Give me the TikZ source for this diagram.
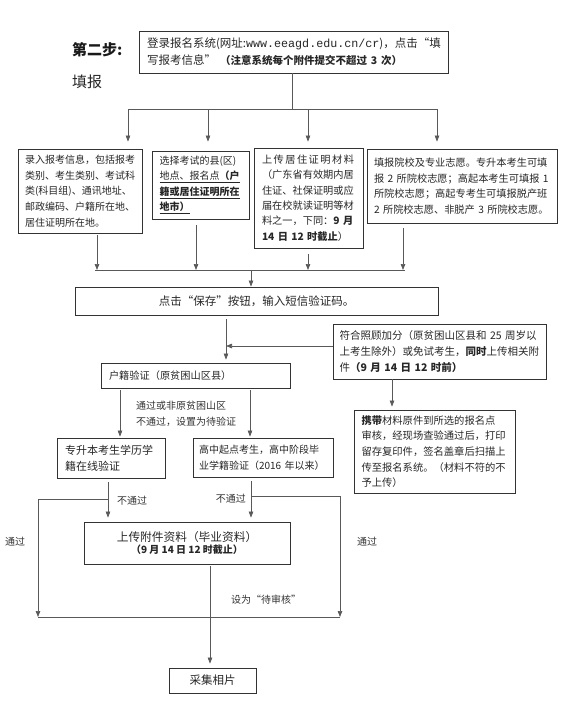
\documentclass[tikz,border=0pt]{standalone}
\usepackage{fontspec}
\setmainfont{Noto Sans CJK SC}
\newfontfamily\monof{Liberation Mono}
\usetikzlibrary{arrows.meta}
\newcommand\myfs[2]{\fontsize{#1}{#2}\selectfont}
\begin{document}
\begin{tikzpicture}[x=1pt,y=-1pt,
 box/.style={draw=black!80, line width=0.8pt, inner sep=0pt, text=black!85, align=left},
 ln/.style={draw=black!65, line width=0.7pt},
 arr/.style={ln, -{Triangle[length=6pt,width=4.5pt]}},
 lbl/.style={text=black!80, font=\myfs{10}{16}, inner sep=0pt, anchor=west, align=left},
]
\useasboundingbox (0,0) rectangle (560,701);

% heading
\node[anchor=west, inner sep=0pt, font=\myfs{15}{18}\bfseries, text=black!90] (step) at (72,50) {第二步:};
\node[anchor=west, inner sep=0pt, font=\myfs{15}{18}, text=black!85] (fill) at (72,82) {填报};

% top box
\node[box, minimum width=309pt, minimum height=42pt, text width=293pt, font=\myfs{11.5}{17}] (top) at (293.5,52)
 {登录报名系统(网址:{\monof\myfs{11.7}{17}www.eeagd.edu.cn/cr})，点击“填\\写报考信息”\hspace{4pt}{\myfs{10.5}{17}\bfseries（注意系统每个附件提交不超过 3 次）}};

% four boxes
\node[box, minimum width=124pt, minimum height=84pt, text width=110pt, font=\myfs{10}{15.6}] (b1) at (80,191)
 {录入报考信息，包括报考\\类别、考生类别、考试科\\类(科目组)、通讯地址、\\邮政编码、户籍所在地、\\居住证明所在地。};
\node[box, minimum width=97pt, minimum height=68pt, text width=82pt, font=\myfs{10}{15.5}] (b2) at (200.5,185)
 {选择考试的县(区)\\\underline{地点、报名点\textbf{（户}}\\\underline{\textbf{籍或居住证明所在}}\\\underline{\textbf{地市）}}};
\node[box, minimum width=109pt, minimum height=100pt, text width=93pt, font=\myfs{10.2}{15.4}] (b3) at (308.5,198)
 {\makebox[92pt][s]{上\hfill 传\hfill 居\hfill 住\hfill 证\hfill 明\hfill 材\hfill 料}\\（广东省有效期内居\\住证、社保证明或应\\届在校就读证明等材\\料之一，下同：\textbf{9 月}\\\textbf{14 日 12 时截止}）};
\node[box, minimum width=190pt, minimum height=74pt, text width=176pt, font=\myfs{10.2}{15.5}] (b4) at (462,186)
 {填报院校及专业志愿。专升本考生可填\\报 2 所院校志愿；高起本考生可填报 1\\所院校志愿；高起专考生可填报脱产班\\2 所院校志愿、非脱产 3 所院校志愿。};

% save box
\node[box, minimum width=363pt, minimum height=28pt, align=center, font=\myfs{11.5}{14}] (save) at (256.5,301)
 {点击“保存”按钮，输入短信验证码。};

% special box
\node[box, minimum width=213pt, minimum height=55pt, text width=200pt, font=\myfs{10.5}{15.8}] (fh) at (439.5,351.5)
 {符合照顾加分（原贫困山区县和 25 周岁以\\上考生除外）或免试考生，\textbf{同时}上传相关附\\件\textbf{（9 月 14 日 12 时前）}};

% huji box
\node[box, minimum width=189pt, minimum height=25pt, text width=173pt, font=\myfs{10.2}{14}] (hj) at (195.5,375.5)
 {户籍验证（原贫困山区县）};

% carry box
\node[box, minimum width=161pt, minimum height=83pt, text width=146pt, font=\myfs{10.3}{15.6}] (xd) at (434.5,451.5)
 {\textbf{携带}材料原件到所选的报名点\\审核，经现场查验通过后，打印\\留存复印件，签名盖章后扫描上\\传至报名系统。（材料不符的不\\予上传）};

% verification boxes
\node[box, minimum width=108pt, minimum height=40pt, text width=92pt, font=\myfs{11}{16}] (zsb) at (111,458)
 {专升本考生学历学\\籍在线验证};
\node[box, minimum width=140pt, minimum height=39pt, text width=128pt, font=\myfs{10}{16}] (gz) at (263,457.5)
 {高中起点考生，高中阶段毕\\业学籍验证（2016~年以来）};

% upload box
\node[box, minimum width=206pt, minimum height=42pt, align=center] (sc) at (187,543)
 {{\myfs{11.7}{16}上传附件资料（毕业资料）}\\{\myfs{10}{16}\bfseries（9 月 14 日 12 时截止）}};

% photo box
\node[box, minimum width=87pt, minimum height=25pt, align=center, font=\myfs{11.5}{14}] (cj) at (212.5,680.5) {采集相片};

% labels
\node[lbl] (l1) at (136,414) {通过或非原贫困山区\\不通过，设置为待验证};
\node[lbl] (l2) at (117,501) {不通过};
\node[lbl, anchor=east] (l3) at (246,499) {不通过};
\node[lbl] (l4) at (5,542) {通过};
\node[lbl] (l5) at (357,542) {通过};
\node[lbl] (l6) at (231,600) {设为“待审核”};

% top connectors
\coordinate (tb) at (292,109);
\coordinate (bL) at (128,109);
\coordinate (c2) at (208,109);
\coordinate (c3) at (308,109);
\coordinate (bR) at (437,109);
\draw[ln] (top.south -| tb) -- (tb);
\draw[ln] (bL) -- (bR);
\draw[arr, shorten >=7pt] (bL) -- (bL |- b1.north);
\draw[arr, shorten >=9pt] (c2) -- (c2 |- b2.north);
\draw[arr, shorten >=6pt] (c3) -- (c3 |- b3.north);
\draw[arr, shorten >=7pt] (bR) -- (bR |- b4.north);

% middle bar
\coordinate (m1) at (97,270);
\coordinate (m2) at (196,270);
\coordinate (m3) at (308,270);
\coordinate (m4) at (403,270);
\coordinate (mL) at (95,270);
\coordinate (mR) at (405,270);
\coordinate (mc) at (251,270);
\draw[ln] (mL) -- (mR);
\draw[arr, shorten <=2pt] (b1.south -| m1) -- (m1);
\draw[arr, shorten <=6pt] (b2.south -| m2) -- (m2);
\draw[arr, shorten <=6pt] (b3.south -| m3) -- (m3);
\draw[arr, shorten <=5pt] (b4.south -| m4) -- (m4);
\draw[arr] (mc) -- (mc |- save.north);

% save -> huji, special -> join
\coordinate (j1) at (226,346);
\draw[arr, shorten <=4pt, shorten >=3pt] (save.south -| j1) -- (hj.north -| j1);
\draw[arr] (fh.west |- j1) -- (j1);
\coordinate (xx) at (392,400);
\draw[arr, shorten >=3pt] (fh.south -| xx) -- (xd.north -| xx);

% huji -> verification
\coordinate (v1) at (120,400);
\coordinate (v2) at (250,400);
\draw[arr, shorten <=2pt, shorten >=1pt] (hj.south -| v1) -- (zsb.north -| v1);
\draw[arr, shorten <=2pt, shorten >=1pt] (hj.south -| v2) -- (gz.north -| v2);

% verification -> upload
\coordinate (L1) at (108,499);
\coordinate (L2) at (38,499);
\coordinate (L3) at (38,617);
\coordinate (R1) at (251,496);
\coordinate (R2) at (340,496);
\coordinate (R3) at (340,617);
\draw[arr, shorten <=4pt, shorten >=4pt] (zsb.south -| L1) -- (sc.north -| L1);
\draw[arr, shorten <=4pt, shorten >=4pt] (gz.south -| R1) -- (sc.north -| R1);
\draw[ln] (L1) -- (L2);
\draw[arr] (L2) -- (L3);
\draw[ln] (R1) -- (R2);
\draw[arr] (R2) -- (R3);
\draw[ln] (L3) -- (R3);

% upload -> photo
\coordinate (pp) at (210,600);
\draw[arr, shorten <=2pt, shorten >=4pt] (sc.south -| pp) -- (cj.north -| pp);
\end{tikzpicture}
\end{document}
